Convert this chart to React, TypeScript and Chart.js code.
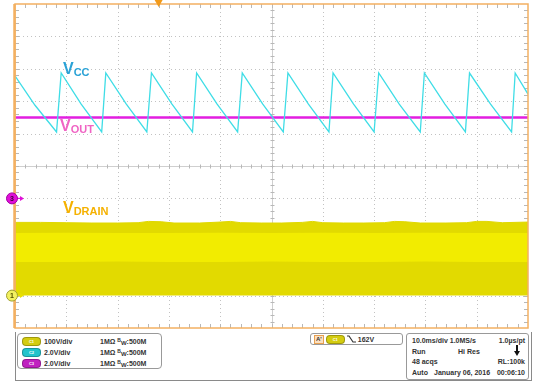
import React, { useEffect, useRef } from "react";
import { Chart, registerables } from "chart.js";

Chart.register(...registerables);

// ---- Acquisition / display settings ----
const TIME_PER_DIV_MS = 10;
const H_DIVS = 10;
const V_DIVS = 10;
const TRIGGER_POS_MS = 28;

// Channel scale (volts per division) and ground marker offset (divisions from centre)
const C1_VOLTS_PER_DIV = 100;
const C1_OFFSET_DIV = -4;
const C2_VOLTS_PER_DIV = 2;
const C2_OFFSET_DIV = -1;
const C3_VOLTS_PER_DIV = 2;
const C3_OFFSET_DIV = -1;

// ---- C2: VCC sawtooth (ms, V) ----
const vccTime = [
  0, 3.9, 8.1, 9.0, 12.9, 16.9, 17.7, 21.7, 25.7, 26.6, 30.6, 34.6, 35.4, 39.4,
  43.4, 44.3, 48.3, 52.3, 53.2, 57.2, 61.2, 62.0, 66.0, 70.0, 70.9, 74.9, 79.0,
  79.8, 83.8, 87.8, 88.6, 92.7, 96.8, 97.5, 100,
];
const vccVolts = [
  7.56, 5.75, 4.1, 7.74, 5.82, 4.1, 7.74, 5.82, 4.1, 7.74, 5.82, 4.1, 7.74, 5.82,
  4.1, 7.74, 5.82, 4.1, 7.74, 5.82, 4.1, 7.74, 5.82, 4.1, 7.74, 5.82, 4.1,
  7.74, 5.82, 4.1, 7.74, 5.82, 4.1, 7.74, 6.44,
];

// ---- C3: VOUT (ms, V) ----
const voutTime = [0, 100];
const voutVolts = [5.0, 5.0];

// ---- C1: VDRAIN switching envelope (ms, V) ----
const drainTime = [
  0, 5, 10, 15, 20, 24, 26, 28.5, 31, 36, 40, 42, 44, 48, 52, 56, 58, 60, 64, 68,
  72, 74, 76, 79, 84, 88, 90, 92, 95, 100,
];
const drainMax = [
  226, 226, 225, 224, 224, 225, 229, 228, 224, 224, 227, 229, 225, 224, 224, 226,
  229, 225, 224, 224, 225, 229, 228, 224, 224, 225, 229, 229, 225, 227,
];
// Dense (most frequently hit) region of the switching waveform
const denseTime = [0, 10, 20, 30, 40, 50, 60, 70, 80, 90, 100];
const denseHigh = [193, 194, 193, 193, 194, 193, 194, 193, 194, 193, 193];
const denseLow = [104, 104, 105, 104, 104, 105, 104, 104, 105, 104, 104];

// ---- Readout panel text ----
const chNames = ["C1", "C2", "C3"];
const chScales = ["100V/div", "2.0V/div", "2.0V/div"];
const chColors = ["#d4cc10", "#22c4cc", "#c020c0"];
const trigLevel = "162V";
const acqRows = [
  ["10.0ms/div 1.0MS/s", "", "1.0µs/pt"],
  ["Run", "Hi Res", ""],
  ["48 acqs", "", "RL:100k"],
  ["Auto", "January 06, 2016", "00:06:10"],
];

const toDiv = (v: number, vpd: number, off: number) => v / vpd + off;
const series = (t: number[], v: number[], vpd: number, off: number) =>
  t.map((x, i) => ({ x, y: toDiv(v[i], vpd, off) }));

const FONT = '"Liberation Sans", Arial, sans-serif';

const graticule = {
  id: "graticule",
  beforeDatasetsDraw(chart: any) {
    const { ctx, chartArea: a, scales } = chart;
    const xs = scales.x;
    const ys = scales.y;
    ctx.save();
    // dotted division lines
    ctx.strokeStyle = "#c2c2c2";
    ctx.lineWidth = 1;
    ctx.setLineDash([1, 3]);
    for (let i = 1; i < H_DIVS; i++) {
      if (i === H_DIVS / 2) continue;
      const px = Math.round(xs.getPixelForValue(i * TIME_PER_DIV_MS)) + 0.5;
      ctx.beginPath();
      ctx.moveTo(px, a.top);
      ctx.lineTo(px, a.bottom);
      ctx.stroke();
    }
    for (let j = 1; j < V_DIVS; j++) {
      const v = -V_DIVS / 2 + j;
      if (v === 0) continue;
      const py = Math.round(ys.getPixelForValue(v)) + 0.5;
      ctx.beginPath();
      ctx.moveTo(a.left, py);
      ctx.lineTo(a.right, py);
      ctx.stroke();
    }
    ctx.setLineDash([]);
    // centre crosshair with minor ticks
    const cx = Math.round(xs.getPixelForValue((H_DIVS / 2) * TIME_PER_DIV_MS)) + 0.5;
    const cy = Math.round(ys.getPixelForValue(0)) + 0.5;
    ctx.strokeStyle = "#cfcfcf";
    ctx.beginPath();
    ctx.moveTo(cx, a.top);
    ctx.lineTo(cx, a.bottom);
    ctx.moveTo(a.left, cy);
    ctx.lineTo(a.right, cy);
    ctx.stroke();
    ctx.strokeStyle = "#b8b8b8";
    ctx.beginPath();
    for (let k = 1; k < H_DIVS * 5; k++) {
      const px = Math.round(xs.getPixelForValue((k * TIME_PER_DIV_MS) / 5)) + 0.5;
      ctx.moveTo(px, cy - 2);
      ctx.lineTo(px, cy + 2);
      ctx.moveTo(px, a.top);
      ctx.lineTo(px, a.top + 4);
      ctx.moveTo(px, a.bottom);
      ctx.lineTo(px, a.bottom - 4);
    }
    for (let k = 1; k < V_DIVS * 5; k++) {
      const py = Math.round(ys.getPixelForValue(-V_DIVS / 2 + k / 5)) + 0.5;
      ctx.moveTo(cx - 2, py);
      ctx.lineTo(cx + 2, py);
      ctx.moveTo(a.left, py);
      ctx.lineTo(a.left + 4, py);
      ctx.moveTo(a.right, py);
      ctx.lineTo(a.right - 4, py);
    }
    ctx.stroke();
    ctx.restore();
  },
  afterDraw(chart: any) {
    const { ctx, chartArea: a, scales } = chart;
    const xs = scales.x;
    const ys = scales.y;
    ctx.save();
    // frame
    ctx.strokeStyle = "#f3b062";
    ctx.lineWidth = 1.5;
    ctx.strokeRect(a.left, a.top, a.right - a.left, a.bottom - a.top);
    ctx.lineWidth = 2.5;
    ctx.beginPath();
    ctx.moveTo(a.left - 0.5, a.top);
    ctx.lineTo(a.left - 0.5, a.bottom);
    ctx.stroke();
    // trigger position marker
    const tx = xs.getPixelForValue(TRIGGER_POS_MS);
    ctx.fillStyle = "#f29a1a";
    ctx.beginPath();
    ctx.moveTo(tx - 4, a.top - 4);
    ctx.lineTo(tx + 4, a.top - 4);
    ctx.lineTo(tx, a.top + 3);
    ctx.closePath();
    ctx.fill();
    // ground reference markers
    const markers = [
      { off: C3_OFFSET_DIV, fill: "#e010d8", stroke: "#a000a0", label: "3", text: "#40003a", arrow: "#e010d8" },
      { off: C1_OFFSET_DIV, fill: "#f2f060", stroke: "#a0a030", label: "1", text: "#505000", arrow: "#e8e000" },
    ];
    for (const m of markers) {
      const my = ys.getPixelForValue(m.off);
      const mx = a.left - 3;
      ctx.fillStyle = m.arrow;
      ctx.strokeStyle = m.arrow;
      ctx.lineWidth = 1.2;
      ctx.beginPath();
      ctx.moveTo(mx + 4, my);
      ctx.lineTo(mx + 10, my);
      ctx.stroke();
      ctx.beginPath();
      ctx.moveTo(mx + 12, my);
      ctx.lineTo(mx + 8, my - 2.5);
      ctx.lineTo(mx + 8, my + 2.5);
      ctx.closePath();
      ctx.fill();
      ctx.beginPath();
      ctx.arc(mx, my, 5.5, 0, Math.PI * 2);
      ctx.fillStyle = m.fill;
      ctx.fill();
      ctx.lineWidth = 1;
      ctx.strokeStyle = m.stroke;
      ctx.stroke();
      ctx.fillStyle = m.text;
      ctx.font = `bold 7px ${FONT}`;
      ctx.textAlign = "center";
      ctx.textBaseline = "middle";
      ctx.fillText(m.label, mx, my + 0.5);
    }
    ctx.restore();
  },
};

function Badge({ name, color }: { name: string; color: string }) {
  return (
    <span
      style={{
        display: "inline-block",
        width: 17,
        height: 7,
        borderRadius: 4,
        background: color,
        border: "1px solid rgba(0,0,0,0.25)",
        color: "#fff",
        fontSize: 4,
        lineHeight: "7px",
        textAlign: "center",
        verticalAlign: "middle",
      }}
    >
      {name}
    </span>
  );
}

function Label({ left, top, color, main, sub }: { left: number; top: number; color: string; main: string; sub: string }) {
  return (
    <div
      style={{
        position: "absolute",
        left,
        top,
        color,
        fontFamily: FONT,
        fontWeight: "bold",
        fontSize: 16,
        lineHeight: "16px",
        whiteSpace: "nowrap",
      }}
    >
      {main}
      <span style={{ fontSize: 11, position: "relative", top: 2 }}>{sub}</span>
    </div>
  );
}

export default function App() {
  const ref = useRef<HTMLCanvasElement | null>(null);

  useEffect(() => {
    if (!ref.current) return;
    const chart = new Chart(ref.current, {
      type: "line",
      data: {
        datasets: [
          {
            label: "VCC",
            data: series(vccTime, vccVolts, C2_VOLTS_PER_DIV, C2_OFFSET_DIV),
            borderColor: "#3fdde6",
            borderWidth: 1.3,
            pointRadius: 0,
            fill: false,
            order: 1,
          },
          {
            label: "VOUT",
            data: series(voutTime, voutVolts, C3_VOLTS_PER_DIV, C3_OFFSET_DIV),
            borderColor: "#e21ee0",
            borderWidth: 2.5,
            pointRadius: 0,
            fill: false,
            order: 2,
          },
          {
            label: "VDRAIN dense high",
            data: series(denseTime, denseHigh, C1_VOLTS_PER_DIV, C1_OFFSET_DIV),
            borderWidth: 0,
            borderColor: "rgba(0,0,0,0)",
            backgroundColor: "rgb(242,236,0)",
            pointRadius: 0,
            fill: "+1",
            order: 3,
          },
          {
            label: "VDRAIN dense low",
            data: series(denseTime, denseLow, C1_VOLTS_PER_DIV, C1_OFFSET_DIV),
            borderWidth: 0,
            borderColor: "rgba(0,0,0,0)",
            pointRadius: 0,
            fill: false,
            order: 3,
          },
          {
            label: "VDRAIN",
            data: series(drainTime, drainMax, C1_VOLTS_PER_DIV, C1_OFFSET_DIV),
            borderColor: "rgb(224,216,0)",
            borderWidth: 1,
            backgroundColor: "rgb(226,218,0)",
            pointRadius: 0,
            fill: { value: C1_OFFSET_DIV },
            order: 4,
          },
        ],
      },
      options: {
        animation: false,
        responsive: false,
        maintainAspectRatio: false,
        events: [],
        layout: { padding: { left: 15, top: 4, right: 5, bottom: 4 } },
        scales: {
          x: { type: "linear", min: 0, max: H_DIVS * TIME_PER_DIV_MS, display: false },
          y: { type: "linear", min: -V_DIVS / 2, max: V_DIVS / 2, display: false },
        },
        plugins: { legend: { display: false }, tooltip: { enabled: false } },
      },
      plugins: [graticule],
    });
    return () => chart.destroy();
  }, []);

  const small: React.CSSProperties = {
    fontFamily: FONT,
    fontSize: 7,
    fontWeight: "bold",
    color: "#333",
    whiteSpace: "nowrap",
  };

  return (
    <div style={{ position: "fixed", left: 0, top: 0, width: 533, height: 382, background: "#fff", overflow: "hidden" }}>
      <canvas ref={ref} width={533} height={332} style={{ position: "absolute", left: 0, top: 0 }} />
      <Label left={63} top={61} color="#2aa2d6" main="V" sub="CC" />
      <Label left={60} top={118} color="#f064c4" main="V" sub="OUT" />
      <Label left={63} top={200} color="#f5b100" main="V" sub="DRAIN" />

      {/* readout frame */}
      <div style={{ position: "absolute", left: 15, top: 332, width: 515, height: 48, borderLeft: "1px solid #8a8a8a", borderBottom: "1px solid #8a8a8a", borderRight: "1px solid #8a8a8a" }} />

      {/* channel readouts */}
      <div style={{ position: "absolute", left: 17, top: 333, width: 145, height: 36, border: "1px solid #999", borderRadius: 4, boxSizing: "border-box" }}>
        {chNames.map((n, i) => (
          <div key={n} style={{ position: "absolute", left: 4, top: 3 + i * 11, height: 9, display: "flex", alignItems: "center", ...small }}>
            <Badge name={n} color={chColors[i]} />
            <span style={{ marginLeft: 3, width: 56 }}>{chScales[i]}</span>
            <span>1MΩ&nbsp;</span>
            <span style={{ position: "relative" }}>
              <span style={{ fontSize: 5, position: "relative", top: -2 }}>B</span>
              <span style={{ fontSize: 6, position: "relative", top: 1 }}>W</span>:500M
            </span>
          </div>
        ))}
      </div>

      {/* trigger readout */}
      <div style={{ position: "absolute", left: 310, top: 333, width: 93, height: 12, border: "1px solid #999", borderRadius: 3, boxSizing: "border-box", display: "flex", alignItems: "center", ...small }}>
        <span style={{ marginLeft: 3, padding: "0 1px", background: "#fbe0c0", border: "1px solid #e8a050", fontSize: 6, lineHeight: "7px" }}>A'</span>
        <span style={{ marginLeft: 2 }}>
          <Badge name="C1" color={chColors[0]} />
        </span>
        <svg width="9" height="8" style={{ marginLeft: 2 }}>
          <polyline points="0,1 2,1 6,7 9,7" fill="none" stroke="#333" strokeWidth="1.2" />
        </svg>
        <span style={{ marginLeft: 2 }}>{trigLevel}</span>
      </div>

      {/* acquisition readout */}
      <div style={{ position: "absolute", left: 406, top: 333, width: 123, height: 47, border: "1px solid #999", borderRadius: 3, boxSizing: "border-box" }}>
        {acqRows.map((r, i) => (
          <div key={i} style={{ position: "absolute", left: 5, top: 3 + i * 10.5, width: 113, height: 9, ...small }}>
            <span style={{ position: "absolute", left: 0 }}>{r[0]}</span>
            {r[1] && <span style={{ position: "absolute", left: i === 3 ? 22 : 46 }}>{r[1]}</span>}
            {r[2] && <span style={{ position: "absolute", right: 0 }}>{r[2]}</span>}
          </div>
        ))}
        <svg width="6" height="12" style={{ position: "absolute", left: 107, top: 11 }}>
          <line x1="3" y1="0" x2="3" y2="7" stroke="#111" strokeWidth="2" />
          <polygon points="0,6 6,6 3,11" fill="#111" />
        </svg>
      </div>
    </div>
  );
}
